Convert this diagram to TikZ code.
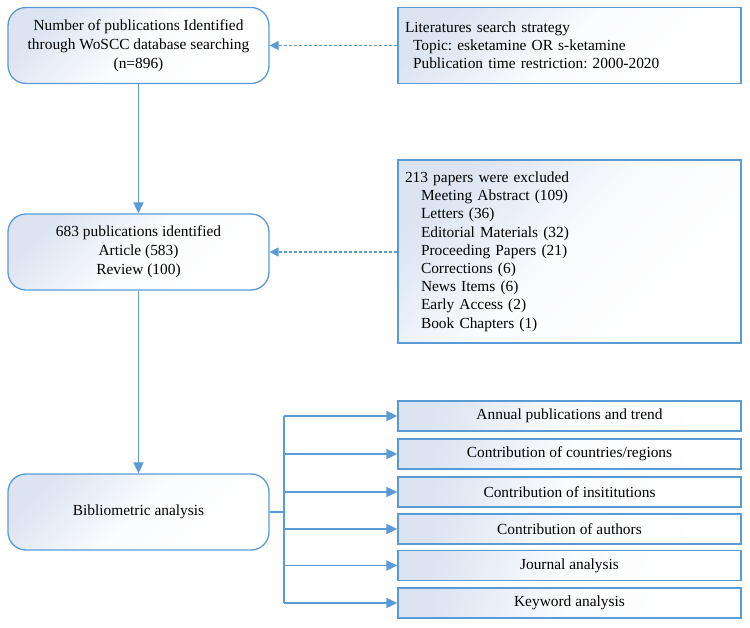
\documentclass[tikz,border=0pt]{standalone}
\usepackage{fontspec}
\setmainfont{Liberation Serif}
\frenchspacing
\usetikzlibrary{arrows.meta,positioning}
\definecolor{flowline}{HTML}{5B9BD5}
\definecolor{flowfill}{HTML}{DCE4F2}
\tikzset{roundbox/.style={draw=flowline,line width=1.3pt,rounded corners=18pt,
        top color=flowfill,bottom color=white,middle color=white!88!flowfill,shading angle=45,
        minimum width=261pt,minimum height=76pt,align=center,
        font=\fontsize{15.4}{19}\selectfont},
    listbox/.style={draw=flowline,line width=1.3pt,rectangle,
        top color=flowfill,bottom color=white,middle color=white!88!flowfill,shading angle=45,
        minimum width=343pt,inner xsep=7pt,text width=329pt,align=left,
        font=\fontsize{15.4}{18.2}\selectfont},
    stepbox/.style={draw=flowline,line width=1.3pt,rectangle,
        top color=flowfill,bottom color=white,middle color=white!88!flowfill,shading angle=70,
        minimum width=343pt,minimum height=30pt,
        font=\fontsize{15.4}{18}\selectfont},
    flowarrow/.style={draw=flowline,line width=1.9pt,-{Triangle[length=11pt,width=10pt]}},
    dotarrow/.style={draw=flowline,line width=1.5pt,dash pattern=on 3pt off 2pt,
        -{Triangle[length=9pt,width=9pt]}}
}
\begin{document}
\begin{tikzpicture}[x=1pt,y=-1pt]
\useasboundingbox (0,0) rectangle (750,627);

% main column
\node (identified) at (138.5,45.5) [roundbox]
    {Number of publications Identified\\through WoSCC database searching\\(n=896)};
\node (screened) at (138.5,252) [roundbox] {683 publications identified\\Article (583)\\Review (100)};
\node (bib) at (138.5,512) [roundbox] {Bibliometric analysis};

% side boxes
\node (strategy) at (569.5,45.5) [listbox,minimum height=76pt]
    {Literatures search strategy\\
     \hspace*{8pt}Topic: esketamine OR s-ketamine\\
     \hspace*{8pt}Publication time restriction: 2000-2020};
\node (excluded) at (569.5,251.5) [listbox,minimum height=183pt]
    {213 papers were excluded\\
     \hspace*{16pt}Meeting Abstract (109)\\
     \hspace*{16pt}Letters (36)\\
     \hspace*{16pt}Editorial Materials (32)\\
     \hspace*{16pt}Proceeding Papers (21)\\
     \hspace*{16pt}Corrections (6)\\
     \hspace*{16pt}News Items (6)\\
     \hspace*{16pt}Early Access (2)\\
     \hspace*{16pt}Book Chapters (1)};

\draw [flowarrow] (identified) -- (screened);
\draw [flowarrow] (screened) -- (bib);
\draw [dotarrow] (strategy.west) -- (identified.east);
\draw [dotarrow] (excluded.west |- screened.east) -- (screened.east);

% analyses
\node (annual) at (569.5,416) [stepbox] {Annual publications and trend};
\node (countries) at (569.5,454) [stepbox] {Contribution of countries/regions};
\node (institutions) at (569.5,492) [stepbox] {Contribution of insititutions};
\node (authors) at (569.5,529) [stepbox] {Contribution of authors};
\node (journal) at (569.5,565.5) [stepbox] {Journal analysis};
\node (keyword) at (569.5,603) [stepbox] {Keyword analysis};

\coordinate (fork) at (284,512);
\draw [flowline,line width=1.9pt] (bib.east) -- (fork);
\draw [flowline,line width=1.9pt] (fork |- annual) -- (fork |- keyword);
\foreach \step in {annual,countries,institutions,authors,journal,keyword}
    \draw [flowarrow] (fork |- \step) -- (\step.west);

\end{tikzpicture}
\end{document}
